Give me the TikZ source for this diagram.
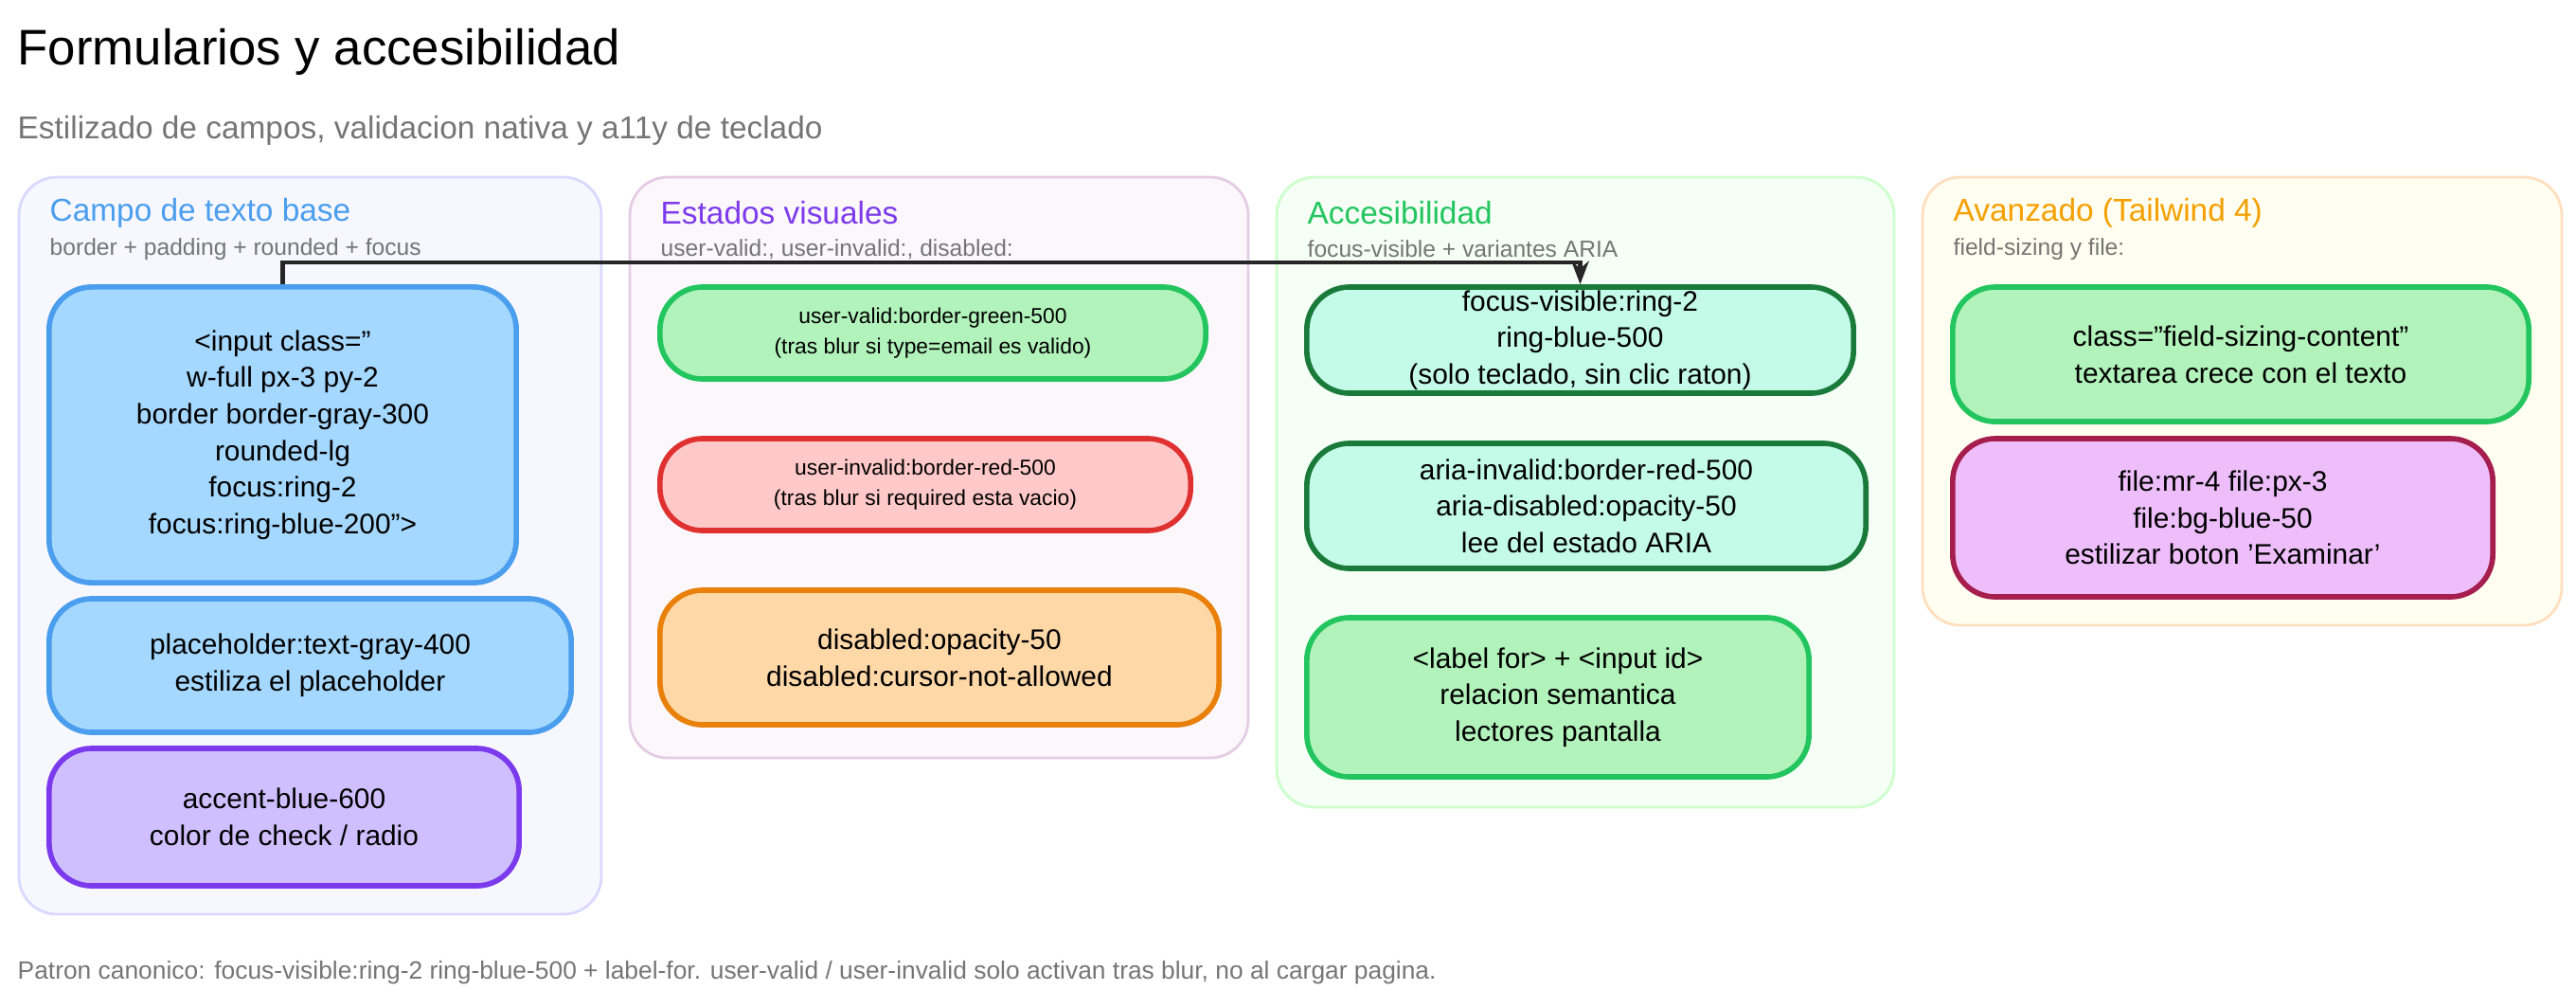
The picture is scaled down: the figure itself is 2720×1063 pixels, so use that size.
\documentclass[tikz,border=0pt]{standalone}
\usepackage{fontspec}
\usetikzlibrary{arrows.meta}
\setmainfont{Liberation Sans}
\definecolor{tgray}{HTML}{757575}
\definecolor{bblue}{HTML}{4A9EED}\definecolor{fblue}{HTML}{A5D8FF}
\definecolor{bpur}{HTML}{7C3AED}\definecolor{fpur}{HTML}{D0BFFF}
\definecolor{bgreen}{HTML}{22C55E}\definecolor{fgreen}{HTML}{B2F2BB}
\definecolor{bred}{HTML}{E03131}\definecolor{fred}{HTML}{FFC9C9}
\definecolor{bora}{HTML}{E8800A}\definecolor{fora}{HTML}{FFD8A8}
\definecolor{bdg}{HTML}{1A7A3A}\definecolor{fmint}{HTML}{C3FAE8}
\definecolor{bmag}{HTML}{A61E4D}\definecolor{fmag}{HTML}{EEBEFA}
\definecolor{torange}{HTML}{F59F00}
\begin{document}
\begin{tikzpicture}[x=0.01cm,y=-0.01cm,
 panel/.style={rounded corners=0.4cm,line width=0.8pt},
 box/.style={rounded corners=0.45cm,line width=1.6pt,align=center,font=\fontsize{8.5}{11}\selectfont,inner sep=0pt},
 sbox/.style={box,font=\fontsize{6.5}{9}\selectfont},
 ptitle/.style={anchor=west,font=\fontsize{9.5}{11}\selectfont,inner sep=0pt},
 psub/.style={anchor=west,font=\fontsize{7}{9}\selectfont,text=tgray,inner sep=0pt}]
\useasboundingbox (0,0) rectangle (2720,1063);
\node[anchor=west,inner sep=0pt,font=\fontsize{15}{18}\selectfont] (title) at (18,55) {Formularios y accesibilidad};
\node[anchor=west,inner sep=0pt,font=\fontsize{9.5}{11}\selectfont,text=tgray] (sub) at (18,138) {Estilizado de campos, validacion nativa y a11y de teclado};
% panels
\draw[panel,draw=blue!15,fill=blue!3] (20,187) rectangle (635,965);
\draw[panel,draw=violet!20,fill=violet!3] (665,187) rectangle (1318,800);
\draw[panel,draw=green!20,fill=green!4] (1348,187) rectangle (2000,852);
\draw[panel,draw=orange!25,fill=yellow!6] (2030,187) rectangle (2705,660);
\node[ptitle,text=bblue] (t1) at (52,225) {Campo de texto base};
\node[psub] (s1) at (52,263) {border + padding + rounded + focus};
\node[ptitle,text=bpur] (t2) at (697,225) {Estados visuales};
\node[psub] (s2) at (697,263) {user-valid:, user-invalid:, disabled:};
\node[ptitle,text=bgreen] (t3) at (1380,225) {Accesibilidad};
\node[psub] (s3) at (1380,263) {focus-visible + variantes ARIA};
\node[ptitle,text=torange] (t4) at (2062,225) {Avanzado (Tailwind 4)};
\node[psub] (s4) at (2062,263) {field-sizing y file:};
% column 1
\node[box,draw=bblue,fill=fblue,minimum width=4.93cm,minimum height=3.12cm] (inp) at (298.5,459) {<input class="\\w-full px-3 py-2\\border border-gray-300\\rounded-lg\\focus:ring-2\\focus:ring-blue-200">};
\node[box,draw=bblue,fill=fblue,minimum width=5.51cm,minimum height=1.41cm] (ph) at (327.5,702.5) {placeholder:text-gray-400\\estiliza el placeholder};
\node[box,draw=bpur,fill=fpur,minimum width=4.96cm,minimum height=1.45cm] (acc) at (300,862.5) {accent-blue-600\\color de check / radio};
% column 2
\node[sbox,draw=bgreen,fill=fgreen,minimum width=5.76cm,minimum height=0.97cm] (uv) at (985,351.5) {user-valid:border-green-500\\(tras blur si type=email es valido)};
\node[sbox,draw=bred,fill=fred,minimum width=5.6cm,minimum height=0.97cm] (ui) at (977,511.5) {user-invalid:border-red-500\\(tras blur si required esta vacio)};
\node[box,draw=bora,fill=fora,minimum width=5.9cm,minimum height=1.42cm] (dis) at (992,694) {disabled:opacity-50\\disabled:cursor-not-allowed};
% column 3
\node[box,draw=bdg,fill=fmint,minimum width=5.77cm,minimum height=1.12cm] (fv) at (1668.5,359) {focus-visible:ring-2\\ring-blue-500\\(solo teclado, sin clic raton)};
\node[box,draw=bdg,fill=fmint,minimum width=5.9cm,minimum height=1.32cm] (aria) at (1675,534) {aria-invalid:border-red-500\\aria-disabled:opacity-50\\lee del estado ARIA};
\node[box,draw=bgreen,fill=fgreen,minimum width=5.3cm,minimum height=1.68cm] (lbl) at (1645,736) {<label for> + <input id>\\relacion semantica\\lectores pantalla};
% column 4
\node[box,draw=bgreen,fill=fgreen,minimum width=6.08cm,minimum height=1.42cm] (fs) at (2366,374) {class="field-sizing-content"\\textarea crece con el texto};
\node[box,draw=bmag,fill=fmag,minimum width=5.7cm,minimum height=1.67cm] (file) at (2347,546.5) {file:mr-4 file:px-3\\file:bg-blue-50\\estilizar boton 'Examinar'};
% connector
\coordinate (turn) at (1668.5,277);
\draw[line width=1.4pt,-{Stealth[length=7pt]},black!85] (inp.north) |- (turn) -- (fv.north);
\node[anchor=west,inner sep=0pt,font=\fontsize{7.5}{9}\selectfont,text=tgray] (foot) at (18,1027) {Patron canonico: focus-visible:ring-2 ring-blue-500 + label-for. user-valid / user-invalid solo activan tras blur, no al cargar pagina.};
\end{tikzpicture}
\end{document}
